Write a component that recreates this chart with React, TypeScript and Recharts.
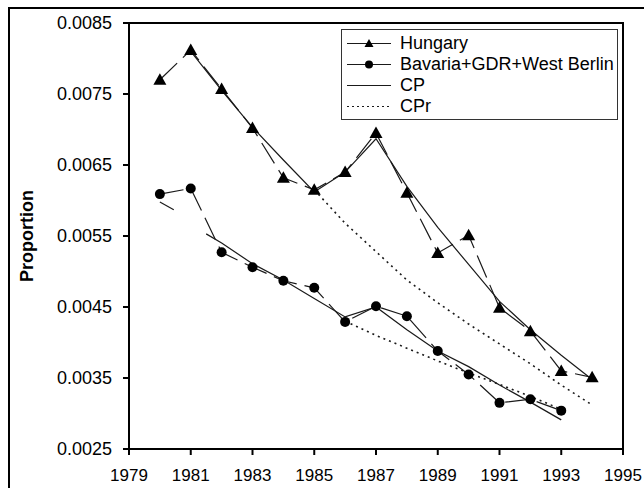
import { Legend, Line, LineChart, XAxis, YAxis } from "recharts";

const FONT = "'Liberation Sans', Arial, sans-serif";

// observed rates
const YEARS_HU = [1980, 1981, 1982, 1983, 1984, 1985, 1986, 1987, 1988, 1989, 1990, 1991, 1992, 1993, 1994];
const HUNGARY = [0.0077, 0.00812, 0.00757, 0.00702, 0.00632, 0.00615, 0.0064, 0.00695, 0.00611, 0.00526, 0.00551, 0.00449, 0.00416, 0.0036, 0.00351];

const YEARS_BAV = [1980, 1981, 1982, 1983, 1984, 1985, 1986, 1987, 1988, 1989, 1990, 1991, 1992, 1993];
const BAVARIA = [0.00609, 0.00617, 0.00527, 0.00506, 0.00487, 0.00477, 0.00429, 0.00451, 0.00437, 0.00388, 0.00355, 0.00315, 0.0032, 0.00304];

// CP fits
const CP_HU_YEARS = [1981, 1982, 1983, 1984, 1985, 1986, 1987, 1988, 1989, 1990, 1991, 1992, 1993, 1994];
const CP_HU = [0.0081, 0.00755, 0.00703, 0.00657, 0.00612, 0.0064, 0.00687, 0.0062, 0.00562, 0.0051, 0.00458, 0.00418, 0.00382, 0.00348];

const CP_BAV_A_YEARS = [1980, 1980.45];
const CP_BAV_A = [0.00598, 0.00587];
const CP_BAV_B_YEARS = [1981.5, 1982, 1983, 1984, 1985, 1986, 1987, 1988, 1989, 1990, 1991, 1992, 1993];
const CP_BAV_B = [0.00553, 0.0054, 0.00511, 0.00488, 0.00462, 0.00436, 0.0045, 0.00418, 0.00388, 0.00366, 0.0034, 0.00316, 0.00291];

// CPr fits
const CPR_HU_YEARS = [1985, 1986, 1987, 1988, 1989, 1990, 1991, 1992, 1993, 1994];
const CPR_HU = [0.00615, 0.00568, 0.00528, 0.00488, 0.00456, 0.00426, 0.00398, 0.0037, 0.0034, 0.00312];
const CPR_BAV_YEARS = [1986, 1987, 1988, 1989, 1990, 1991, 1992, 1993];
const CPR_BAV = [0.0043, 0.0041, 0.00392, 0.00374, 0.00357, 0.00341, 0.00324, 0.00306];

const X_TICKS = [1979, 1981, 1983, 1985, 1987, 1989, 1991, 1993, 1995];
const Y_TICKS = [0.0025, 0.0035, 0.0045, 0.0055, 0.0065, 0.0075, 0.0085];

const pts = (xs: number[], ys: number[]) => xs.map((x, i) => ({ x, y: ys[i] }));

const LINE = "#1a1a1a";

function TriangleDot(props: any) {
  const { cx, cy } = props;
  if (cx == null || cy == null) return null;
  return <path d={`M${cx},${cy - 6.5} L${cx + 6.5},${cy + 5} L${cx - 6.5},${cy + 5} Z`} fill="#000" />;
}

function CircleDot(props: any) {
  const { cx, cy } = props;
  if (cx == null || cy == null) return null;
  return <circle cx={cx} cy={cy} r={5} fill="#000" />;
}

const LEGEND_ROWS = [
  { name: "Hungary", marker: "tri", dash: undefined },
  { name: "Bavaria+GDR+West Berlin", marker: "dot", dash: undefined },
  { name: "CP", marker: null, dash: undefined },
  { name: "CPr", marker: null, dash: "2 3" },
];

function LegendBox() {
  return (
    <div
      style={{
        border: "1px solid #333",
        background: "#fff",
        width: 277,
        height: 91,
        boxSizing: "border-box",
        paddingTop: 3,
        fontFamily: FONT,
        fontSize: 18,
        color: "#000",
        textAlign: "left",
      }}
    >
      {LEGEND_ROWS.map((r) => (
        <div key={r.name} style={{ display: "flex", alignItems: "center", height: 21 }}>
          <svg width={56} height={21} style={{ flex: "none" }}>
            <line x1={5} x2={49} y1={10.5} y2={10.5} stroke={LINE} strokeWidth={1.2} strokeDasharray={r.dash} />
            {r.marker === "tri" && <path d="M27,6 L31.5,14 L22.5,14 Z" fill="#000" />}
            {r.marker === "dot" && <circle cx={27} cy={10.5} r={4} fill="#000" />}
          </svg>
          <span style={{ marginLeft: 2, whiteSpace: "nowrap" }}>{r.name}</span>
        </div>
      ))}
    </div>
  );
}

export default function App() {
  const yTick = { fill: "#000", fontSize: 18, fontFamily: FONT };
  const xTick = { fill: "#000", fontSize: 17, fontFamily: FONT };
  return (
    <div style={{ position: "absolute", left: 0, top: 0, width: 644, height: 488, overflow: "hidden", background: "#fff" }}>
      <div style={{ position: "absolute", left: 8, top: 7, width: 636, height: 2, background: "#000" }} />
      <div style={{ position: "absolute", left: 8, top: 7, width: 2, height: 481, background: "#000" }} />
      <div
        style={{
          position: "absolute",
          left: 128,
          top: 22,
          width: 496,
          height: 428,
          border: "2px solid #000",
          boxSizing: "border-box",
        }}
      />
      <div
        style={{
          position: "absolute",
          left: 27,
          top: 236,
          transform: "translate(-50%, -50%) rotate(-90deg)",
          fontFamily: FONT,
          fontWeight: "bold",
          fontSize: 18,
          whiteSpace: "nowrap",
        }}
      >
        Proportion
      </div>
      <div style={{ position: "absolute", left: 0, top: 0 }}>
        <LineChart width={644} height={488} margin={{ top: 23, right: 21, bottom: 0, left: 0 }}>
          <XAxis
            dataKey="x"
            type="number"
            domain={[1979, 1995]}
            ticks={X_TICKS}
            allowDuplicatedCategory={false}
            height={39}
            tickSize={6}
            tickMargin={14}
            tick={xTick}
            stroke="#000"
            strokeWidth={2}
          />
          <YAxis
            type="number"
            domain={[0.0025, 0.0085]}
            ticks={Y_TICKS}
            width={129}
            tickSize={6}
            tickMargin={11}
            tick={yTick}
            tickFormatter={(v: number) => v.toFixed(4)}
            stroke="#000"
            strokeWidth={2}
          />

          <Line data={pts(CPR_HU_YEARS, CPR_HU)} dataKey="y" stroke={LINE} strokeWidth={1.6} strokeDasharray="2 4" dot={false} isAnimationActive={false} />
          <Line data={pts(CPR_BAV_YEARS, CPR_BAV)} dataKey="y" stroke={LINE} strokeWidth={1.6} strokeDasharray="2 4" dot={false} isAnimationActive={false} />
          <Line data={pts(CP_HU_YEARS, CP_HU)} dataKey="y" stroke={LINE} strokeWidth={1.2} dot={false} isAnimationActive={false} />
          <Line data={pts(CP_BAV_A_YEARS, CP_BAV_A)} dataKey="y" stroke={LINE} strokeWidth={1.2} dot={false} isAnimationActive={false} />
          <Line data={pts(CP_BAV_B_YEARS, CP_BAV_B)} dataKey="y" stroke={LINE} strokeWidth={1.2} dot={false} isAnimationActive={false} />
          <Line data={pts(YEARS_HU, HUNGARY)} dataKey="y" name="Hungary" stroke={LINE} strokeWidth={1.2} strokeDasharray="24 8" dot={<TriangleDot />} isAnimationActive={false} />
          <Line data={pts(YEARS_BAV, BAVARIA)} dataKey="y" name="Bavaria+GDR+West Berlin" stroke={LINE} strokeWidth={1.2} strokeDasharray="24 8" dot={<CircleDot />} isAnimationActive={false} />

          <Legend
            layout="horizontal"
            align="center"
            verticalAlign="middle"
            content={<LegendBox />}
            wrapperStyle={{ position: "absolute", left: 341, top: 29, width: 277, height: 91 }}
          />
        </LineChart>
      </div>
    </div>
  );
}
